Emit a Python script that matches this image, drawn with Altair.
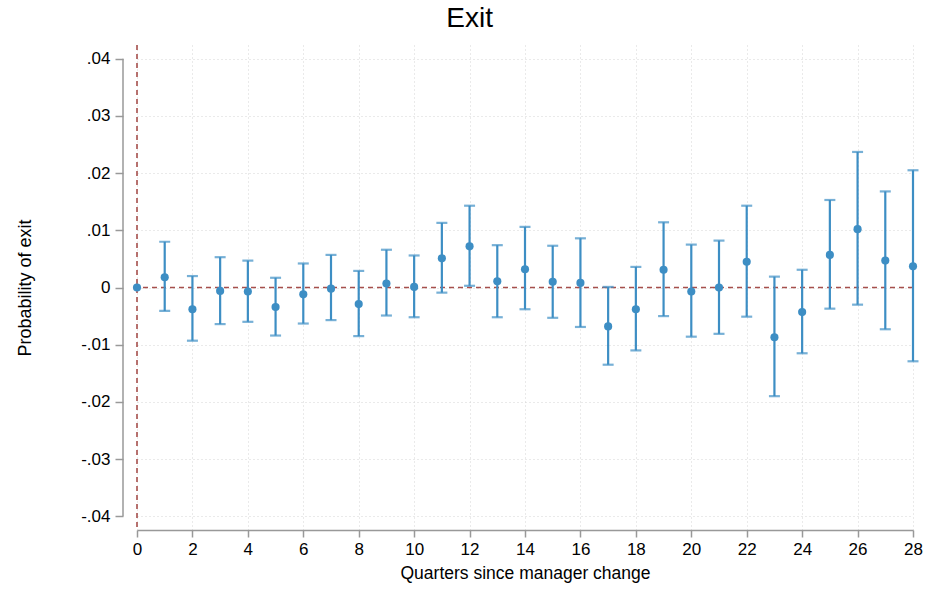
import altair as alt
import pandas as pd

quarters = list(range(0, 29))
estimate = [0.0, 0.0018, -0.0038, -0.0006, -0.0007, -0.0034, -0.0012, -0.0002, -0.0029, 0.0007,
            0.0001, 0.0051, 0.0072, 0.0011, 0.0032, 0.0010, 0.0008, -0.0068, -0.0038, 0.0031,
            -0.0007, 0.0000, 0.0045, -0.0087, -0.0043, 0.0057, 0.0102, 0.0047, 0.0037]
ci_low = [None, -0.0041, -0.0093, -0.0064, -0.0060, -0.0084, -0.0063, -0.0057, -0.0085, -0.0049,
          -0.0052, -0.0009, 0.0003, -0.0052, -0.0038, -0.0053, -0.0069, -0.0135, -0.0110, -0.0050,
          -0.0086, -0.0081, -0.0051, -0.0190, -0.0115, -0.0037, -0.0030, -0.0073, -0.0129]
ci_high = [None, 0.0080, 0.0020, 0.0053, 0.0047, 0.0017, 0.0042, 0.0057, 0.0029, 0.0066,
           0.0056, 0.0113, 0.0143, 0.0074, 0.0106, 0.0073, 0.0086, 0.0001, 0.0036, 0.0114,
           0.0075, 0.0082, 0.0143, 0.0019, 0.0031, 0.0153, 0.0237, 0.0168, 0.0205]
y_ticks = [-0.04, -0.03, -0.02, -0.01, 0.0, 0.01, 0.02, 0.03, 0.04]
x_ticks = list(range(0, 29, 2))

df = pd.DataFrame({"q": quarters, "est": estimate, "lo": ci_low, "hi": ci_high})
ci_df = df.dropna(subset=["lo", "hi"])

BLUE = "#3d8ec4"
RED = "#a64f4c"
FONT = "Liberation Sans"

xscale = alt.Scale(domain=[0, 28], nice=False, zero=False)
yscale = alt.Scale(domain=[-0.0424, 0.0424], nice=False, zero=False)

x_axis = alt.Axis(values=x_ticks, title="Quarters since manager change", grid=True,
                  gridDash=[1, 3], gridColor="#d4d4d4", gridWidth=1,
                  domainColor="#999999", domainWidth=1.5, tickColor="#999999", tickSize=7,
                  tickWidth=1.5, labelFontSize=17, labelColor="#000000", labelFont=FONT,
                  labelPadding=4, titleFontSize=17.5, titleFont=FONT, titleFontWeight="normal",
                  titleColor="#000000", titlePadding=7, labelFlush=False)
y_axis = alt.Axis(values=y_ticks, title="Probability of exit", grid=True,
                  gridDash=[1, 3], gridColor="#d4d4d4", gridWidth=1, domain=False,
                  offset=14, tickColor="#999999", tickSize=8, tickWidth=1.5,
                  labelFontSize=17, labelColor="#000000", labelFont=FONT, labelPadding=5,
                  labelExpr="datum.value == 0 ? '0' : replace(replace(format(datum.value, '.2f'), '0.', '.'), '\u2212', '-')",
                  titleFontSize=18, titleFont=FONT, titleFontWeight="normal",
                  titleColor="#000000", titlePadding=46)

base = alt.Chart(df)

points = base.mark_circle(size=66, opacity=1, color=BLUE).encode(
    x=alt.X("q:Q", scale=xscale, axis=x_axis),
    y=alt.Y("est:Q", scale=yscale, axis=y_axis),
)

bars = alt.Chart(ci_df).mark_rule(color=BLUE, strokeWidth=2.2).encode(
    x=alt.X("q:Q", scale=xscale), y=alt.Y("lo:Q", scale=yscale), y2="hi:Q")
cap_lo = alt.Chart(ci_df).mark_tick(color=BLUE, orient="horizontal", size=11, thickness=2.2).encode(
    x=alt.X("q:Q", scale=xscale), y=alt.Y("lo:Q", scale=yscale))
cap_hi = alt.Chart(ci_df).mark_tick(color=BLUE, orient="horizontal", size=11, thickness=2.2).encode(
    x=alt.X("q:Q", scale=xscale), y=alt.Y("hi:Q", scale=yscale))

zero_h = alt.Chart(pd.DataFrame({"y": [0.0]})).mark_rule(
    color=RED, strokeDash=[5, 4], strokeWidth=1.6).encode(y=alt.Y("y:Q", scale=yscale))
zero_v = alt.Chart(pd.DataFrame({"x": [0]})).mark_rule(
    color=RED, strokeDash=[5, 4], strokeWidth=1.6).encode(x=alt.X("x:Q", scale=xscale))

y_domain_line = alt.Chart(pd.DataFrame({"a": [min(y_ticks)], "b": [max(y_ticks)]})).mark_rule(
    color="#999999", strokeWidth=1.5, clip=False).encode(
    x=alt.value(-14), y=alt.Y("a:Q", scale=yscale), y2="b:Q")

chart = alt.layer(zero_h, zero_v, y_domain_line, bars, cap_lo, cap_hi, points).properties(
    width=776, height=485,
    title=alt.TitleParams("Exit", fontSize=28, font=FONT, fontWeight="normal", color="#000000",
                          anchor="middle", frame="bounds", offset=11),
    autosize=alt.AutoSizeParams(type="none"),
    padding={"left": 137, "top": 45, "right": 12, "bottom": 61},
    view=alt.ViewBackground(strokeWidth=0, stroke="transparent"),
).configure_view(strokeWidth=0, stroke="transparent").configure(background="#ffffff")

chart.save("out.html", embed_options={"renderer": "svg", "actions": False})
